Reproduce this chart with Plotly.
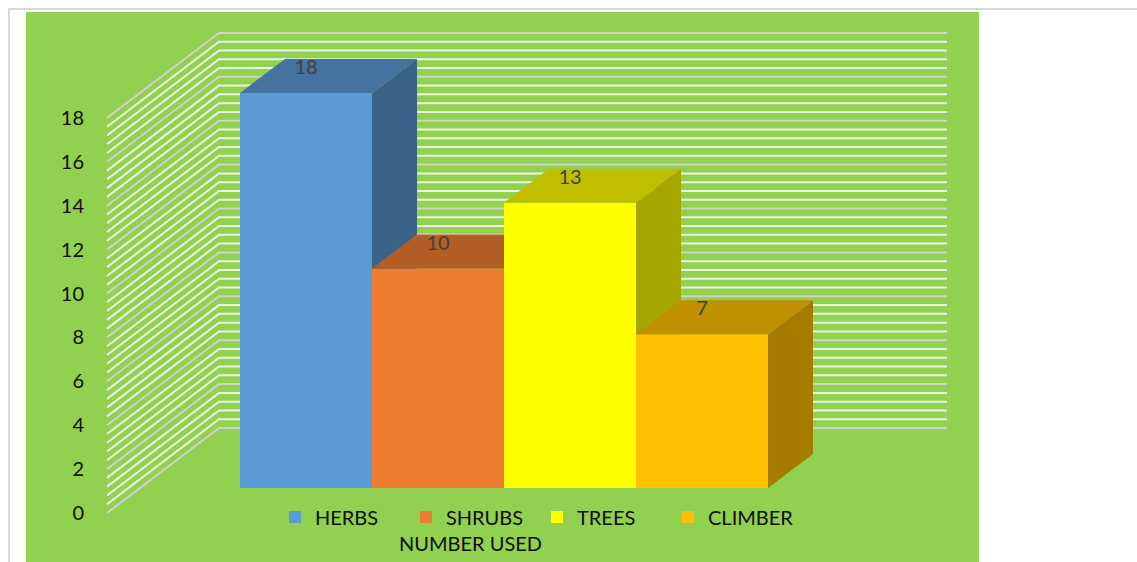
import plotly.graph_objects as go

series_names = ["HERBS", "SHRUBS", "TREES", "CLIMBER"]
series_values = [18, 10, 13, 7]
front_colors = ["#5B9BD5", "#ED7D31", "#FFFF00", "#FFC000"]
top_colors = ["#44739F", "#B25E25", "#BFBF00", "#BF9000"]
side_colors = ["#3A6388", "#9A5120", "#A6A600", "#A67C00"]
axis_ticks = [0, 2, 4, 6, 8, 10, 12, 14, 16, 18]
axis_title = "NUMBER USED"

FONT = "Lato, sans-serif"
FS = 20
GREEN = "#92D050"
W, H = 1137, 562
L, R, T, B = 26, 979, 12, 562
PX_X = 132.0          # pixels per category
PX_Y = 21.95          # pixels per value unit
BAR_BASE = 488        # pixel of value 0 on the bars' front plane
WALL_BASE = 513       # pixel of value 0 on the left wall's front edge
X_ORIGIN = 240        # pixel of the left edge of the first bar


def xd(px):
    return (px - X_ORIGIN) / PX_X - 0.5


BAR_DX, BAR_DY = 45 / PX_X, 34 / PX_Y
WALL_FRONT, WALL_BACK, WALL_END = xd(107), xd(219), xd(947)
WALL_DY = 85 / PX_Y
MINOR = 0.4

x_range = [xd(L), xd(R)]
wall_range = [(WALL_BASE - B) / PX_Y, (WALL_BASE - T) / PX_Y]
bar_range = [(BAR_BASE - B) / PX_Y, (BAR_BASE - T) / PX_Y]

fig = go.Figure()

# Gridlines on the side and back walls
major_x, major_y, minor_x, minor_y = [], [], [], []
n_steps = int(round(axis_ticks[-1] / MINOR))
for k in range(n_steps + 1):
    v = k * MINOR
    xs = [WALL_FRONT, WALL_BACK, WALL_END, None]
    ys = [v, v + WALL_DY, v + WALL_DY, None]
    if k % 5 == 0:
        major_x += xs
        major_y += ys
    else:
        minor_x += xs
        minor_y += ys
fig.add_trace(go.Scatter(x=minor_x, y=minor_y, mode="lines", showlegend=False, hoverinfo="skip",
                         line=dict(color="#EDF3E4", width=2), yaxis="y"))
fig.add_trace(go.Scatter(x=major_x, y=major_y, mode="lines", showlegend=False, hoverinfo="skip",
                         line=dict(color="#D0D0CC", width=2), yaxis="y"))

# One overlay axis per series, so that each block paints over the previous one
for i, (name, val) in enumerate(zip(series_names, series_values)):
    ya = f"y{i + 2}"
    fig.add_trace(go.Bar(x=[i], y=[val], width=1, name=name, yaxis=ya,
                         marker=dict(color=front_colors[i], line=dict(width=0))))
    right = i + 0.5
    left = i - 0.5
    fig.add_trace(go.Scatter(
        x=[right, right + BAR_DX, right + BAR_DX, right, right],
        y=[0, BAR_DY, val + BAR_DY, val, 0],
        fill="toself", fillcolor=side_colors[i], mode="lines", line=dict(width=0),
        showlegend=False, hoverinfo="skip", yaxis=ya))
    fig.add_trace(go.Scatter(
        x=[left, right, right + BAR_DX, left + BAR_DX, left],
        y=[val, val, val + BAR_DY, val + BAR_DY, val],
        fill="toself", fillcolor=top_colors[i], mode="lines", line=dict(width=0),
        showlegend=False, hoverinfo="skip", yaxis=ya))
    fig.add_trace(go.Scatter(
        x=[i], y=[val + 24 / PX_Y], text=[str(val)], mode="text",
        textposition="middle center", textfont=dict(family=FONT, size=FS, color="#404040"),
        showlegend=False, hoverinfo="skip", yaxis=ya))

layout_axes = {}
for i in range(len(series_names)):
    layout_axes[f"yaxis{i + 2}"] = dict(range=bar_range, overlaying="y", visible=False, anchor="x")

fig.update_layout(
    width=W, height=H,
    margin=dict(l=L, r=W - R, t=T, b=H - B, pad=0),
    paper_bgcolor="white", plot_bgcolor=GREEN,
    barmode="overlay",
    font=dict(family=FONT, size=FS, color="#0D0D0D"),
    xaxis=dict(range=x_range, visible=False),
    yaxis=dict(range=wall_range, anchor="free", position=(84 - L) / (R - L),
               tickmode="array", tickvals=axis_ticks, ticktext=[str(t) for t in axis_ticks],
               showgrid=False, zeroline=False, showline=False, ticks="",
               tickfont=dict(family=FONT, size=FS, color="#0D0D0D")),
    legend=dict(orientation="h", x=(275 - L) / (R - L), xanchor="left",
                y=(B - 517) / (B - T), yanchor="middle",
                bgcolor="rgba(0,0,0,0)", entrywidth=86, entrywidthmode="pixels",
                font=dict(family=FONT, size=FS, color="#0D0D0D"),
                traceorder="normal", itemclick=False, itemdoubleclick=False),
    annotations=[dict(text=axis_title, xref="paper", yref="paper",
                      x=(470 - L) / (R - L), y=(B - 543) / (B - T),
                      xanchor="center", yanchor="middle", showarrow=False,
                      font=dict(family=FONT, size=FS, color="#0D0D0D"))],
    shapes=[
        dict(type="line", xref="paper", yref="paper", x0=(8 - L) / (R - L), x1=(W - L) / (R - L),
             y0=(B - 9) / (B - T), y1=(B - 9) / (B - T), line=dict(color="#D9D9D9", width=2)),
        dict(type="line", xref="paper", yref="paper", x0=(9 - L) / (R - L), x1=(9 - L) / (R - L),
             y0=0, y1=(B - 9) / (B - T), line=dict(color="#D9D9D9", width=2)),
    ],
    showlegend=True,
    **layout_axes,
)

fig.write_html("out.html", config=dict(displayModeBar=False),
               post_script="document.body.style.margin='0';document.body.style.overflow='hidden';")
